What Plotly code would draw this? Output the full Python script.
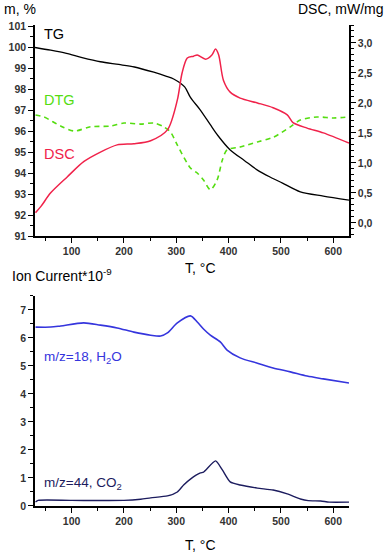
import plotly.graph_objects as go

# ---- data ----
tg_T = [30, 60, 90, 120, 155, 190, 220, 257, 280, 295, 316, 327, 346, 365, 379, 403, 430, 455, 480, 503, 537, 581, 630]
tg_v = [99.98, 99.85, 99.7, 99.5, 99.3, 99.17, 99.05, 98.8, 98.62, 98.48, 98.1, 97.6, 97.0, 96.3, 95.8, 95.1, 94.6, 94.14, 93.8, 93.52, 93.1, 92.9, 92.71]

dsc_T = [31, 41, 60, 92, 123, 155, 187, 219, 251, 283, 302, 311, 321, 333, 340, 356, 368, 375, 381, 390, 403, 422, 455, 485, 512, 523, 550, 581, 630]
dsc_v = [0.17, 0.27, 0.5, 0.77, 1.02, 1.18, 1.3, 1.32, 1.37, 1.55, 2.05, 2.5, 2.75, 2.78, 2.8, 2.73, 2.8, 2.9, 2.8, 2.38, 2.18, 2.08, 2.0, 1.92, 1.8, 1.67, 1.58, 1.5, 1.33]

dtg_T = [31, 47, 79, 105, 136, 175, 200, 232, 257, 276, 289, 302, 327, 340, 352, 365, 378, 388, 397, 422, 455, 485, 518, 537, 569, 600, 630]
dtg_v = [96.76, 96.67, 96.24, 96.0, 96.2, 96.24, 96.38, 96.33, 96.38, 96.2, 95.95, 95.33, 94.24, 94.0, 93.67, 93.2, 93.67, 94.62, 95.1, 95.24, 95.48, 95.7, 96.2, 96.52, 96.67, 96.62, 96.67]

h2o_T = [31, 60, 79, 123, 155, 187, 219, 251, 270, 283, 302, 327, 340, 352, 365, 384, 397, 422, 455, 485, 518, 550, 581, 630]
h2o_v = [6.39, 6.39, 6.43, 6.54, 6.46, 6.36, 6.21, 6.1, 6.07, 6.18, 6.54, 6.79, 6.57, 6.32, 6.1, 5.86, 5.57, 5.29, 5.1, 4.93, 4.79, 4.64, 4.54, 4.39]

co2_T = [31, 36, 100, 200, 232, 251, 283, 302, 314, 327, 346, 352, 375, 388, 403, 422, 455, 485, 512, 537, 552, 576, 592, 630]
co2_v = [0.14, 0.2, 0.2, 0.2, 0.24, 0.29, 0.36, 0.5, 0.75, 0.96, 1.18, 1.21, 1.61, 1.29, 0.86, 0.75, 0.64, 0.57, 0.43, 0.25, 0.19, 0.18, 0.14, 0.14]

x_ticks = [100, 200, 300, 400, 500, 600]
left_ticks = [91, 92, 93, 94, 95, 96, 97, 98, 99, 100, 101]
right_tickvals = [0.0, 0.5, 1.0, 1.5, 2.0, 2.5, 3.0]
right_ticktext = ["0,0", "0,5", "1,0", "1,5", "2,0", "2,5", "3,0"]
ion_ticks = [0, 1, 2, 3, 4, 5, 6, 7]

FONT = "Liberation Sans, Arial, sans-serif"
GREEN = "#55dd11"
RED = "#f0224a"
BLUE = "#3535dd"
NAVY = "#1c1c5e"

fig = go.Figure()
fig.add_trace(go.Scatter(x=tg_T, y=tg_v, mode="lines", line=dict(color="black", width=1.3, shape="spline", smoothing=0.8), xaxis="x", yaxis="y"))
fig.add_trace(go.Scatter(x=dtg_T, y=dtg_v, mode="lines", line=dict(color=GREEN, width=1.6, dash="5px,4px", shape="spline", smoothing=0.8), xaxis="x", yaxis="y"))
fig.add_trace(go.Scatter(x=dsc_T, y=dsc_v, mode="lines", line=dict(color=RED, width=1.5, shape="spline", smoothing=0.8), xaxis="x", yaxis="y2"))
fig.add_trace(go.Scatter(x=h2o_T, y=h2o_v, mode="lines", line=dict(color=BLUE, width=1.6, shape="spline", smoothing=0.8), xaxis="x2", yaxis="y3"))
fig.add_trace(go.Scatter(x=co2_T, y=co2_v, mode="lines", line=dict(color=NAVY, width=1.4, shape="spline", smoothing=0.6), xaxis="x2", yaxis="y3"))

tickfont = dict(family=FONT, size=10.5, color="#333", weight="bold")
axline = dict(showline=True, linecolor="black", linewidth=1.5, ticks="outside", ticklen=5, tickwidth=1.2,
              tickcolor="black", showgrid=False, zeroline=False, tickfont=tickfont, automargin=False)

fig.update_layout(
    width=390, height=555,
    margin=dict(l=35, r=41, t=25, b=49),
    paper_bgcolor="white", plot_bgcolor="white",
    showlegend=False,
    font=dict(family=FONT, size=12, color="black"),
    xaxis=dict(domain=[0, 1], range=[30, 630], anchor="y", tickvals=x_ticks,
               minor=dict(dtick=50, tick0=0, ticks="outside", ticklen=3, tickcolor="black"), **axline),
    yaxis=dict(domain=[0.5613, 1], range=[91, 101.05], anchor="x", tickvals=left_ticks,
               minor=dict(dtick=0.5, tick0=91, ticks="outside", ticklen=3, tickcolor="black"), **axline),
    yaxis2=dict(overlaying="y", side="right", anchor="x", range=[-0.22, 3.3],
                tickvals=right_tickvals, ticktext=right_ticktext,
                minor=dict(dtick=0.1, tick0=0, ticks="outside", ticklen=3, tickcolor="black"), **axline),
    xaxis2=dict(domain=[0, 1], range=[30, 630], anchor="y3", tickvals=x_ticks,
                minor=dict(dtick=50, tick0=0, ticks="outside", ticklen=3, tickcolor="black"), **axline),
    yaxis3=dict(domain=[0, 0.4366], range=[0, 7.5], anchor="x2", tickvals=ion_ticks,
                minor=dict(dtick=0.5, tick0=0, ticks="outside", ticklen=3, tickcolor="black"), **axline),
)

def ann(text, x, y, xref, yref, color="black", size=14, xanchor="left", yanchor="middle"):
    fig.add_annotation(text=text, x=x, y=y, xref=xref, yref=yref, showarrow=False,
                       font=dict(family=FONT, size=size, color=color), xanchor=xanchor, yanchor=yanchor)

# axis titles
ann("m, %", -0.105, 1.0333, "paper", "paper")
ann("DSC, mW/mg", 1.1178, 1.0333, "paper", "paper", xanchor="right")
ann("T, °C", 0.5255, 0.4948, "paper", "paper", xanchor="center")
ann("Ion Current*10<sup>-9</sup>", -0.0796, 0.48, "paper", "paper")
ann("T, °C", 0.5255, -0.081, "paper", "paper", xanchor="center")

# curve labels
ann("TG", 44, 100.62, "x", "y", size=14.5)
ann("DTG", 43, 97.48, "x", "y", color=GREEN, size=14.5)
ann("DSC", 43, 94.9, "x", "y", color=RED, size=14.5)
ann("m/z=18, H<sub>2</sub>O", 43, 5.32, "x2", "y3", color=BLUE, size=13.5)
ann("m/z=44, CO<sub>2</sub>", 43, 0.82, "x2", "y3", color=NAVY, size=13.5)

fig.write_html("out.html", config={"displayModeBar": False},
               post_script="document.body.style.margin='0';")
